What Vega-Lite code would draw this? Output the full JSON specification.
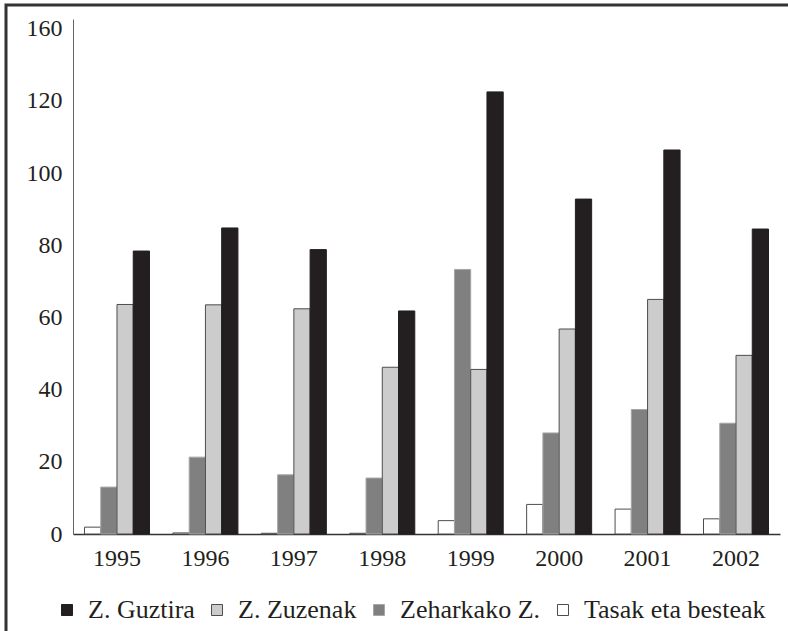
{
  "$schema": "https://vega.github.io/schema/vega-lite/v6.json",
  "width": 800,
  "height": 640,
  "autosize": {"type": "none"},
  "padding": {"left": 6, "top": 5, "right": 0, "bottom": 0},
  "background": "white",
  "config": {
    "view": {"stroke": "#333333", "strokeWidth": 3, "fill": "white"},
    "font": "Liberation Serif, Times New Roman, serif",
    "axis": {"labelFont": "Liberation Serif, Times New Roman, serif"},
    "legend": {"labelFont": "Liberation Serif, Times New Roman, serif"}
  },
  "data": {
    "values": [
      {"year": "1995", "series": "Tasak eta besteak", "value": 1.9},
      {"year": "1995", "series": "Zeharkako Z.", "value": 13.0},
      {"year": "1995", "series": "Z. Zuzenak", "value": 63.6},
      {"year": "1995", "series": "Z. Guztira", "value": 78.4},
      {"year": "1996", "series": "Tasak eta besteak", "value": 0.3},
      {"year": "1996", "series": "Zeharkako Z.", "value": 21.3},
      {"year": "1996", "series": "Z. Zuzenak", "value": 63.5},
      {"year": "1996", "series": "Z. Guztira", "value": 84.8},
      {"year": "1997", "series": "Tasak eta besteak", "value": 0.2},
      {"year": "1997", "series": "Zeharkako Z.", "value": 16.4},
      {"year": "1997", "series": "Z. Zuzenak", "value": 62.4},
      {"year": "1997", "series": "Z. Guztira", "value": 78.8},
      {"year": "1998", "series": "Tasak eta besteak", "value": 0.2},
      {"year": "1998", "series": "Zeharkako Z.", "value": 15.5},
      {"year": "1998", "series": "Z. Zuzenak", "value": 46.2},
      {"year": "1998", "series": "Z. Guztira", "value": 61.8},
      {"year": "1999", "series": "Tasak eta besteak", "value": 3.7},
      {"year": "1999", "series": "Zeharkako Z.", "value": 73.3},
      {"year": "1999", "series": "Z. Zuzenak", "value": 45.6},
      {"year": "1999", "series": "Z. Guztira", "value": 122.5},
      {"year": "2000", "series": "Tasak eta besteak", "value": 8.2},
      {"year": "2000", "series": "Zeharkako Z.", "value": 28.0},
      {"year": "2000", "series": "Z. Zuzenak", "value": 56.8},
      {"year": "2000", "series": "Z. Guztira", "value": 92.8},
      {"year": "2001", "series": "Tasak eta besteak", "value": 6.9},
      {"year": "2001", "series": "Zeharkako Z.", "value": 34.5},
      {"year": "2001", "series": "Z. Zuzenak", "value": 65.0},
      {"year": "2001", "series": "Z. Guztira", "value": 106.4},
      {"year": "2002", "series": "Tasak eta besteak", "value": 4.2},
      {"year": "2002", "series": "Zeharkako Z.", "value": 30.7},
      {"year": "2002", "series": "Z. Zuzenak", "value": 49.5},
      {"year": "2002", "series": "Z. Guztira", "value": 84.5}
    ]
  },
  "mark": {"type": "bar", "strokeWidth": 1},
  "encoding": {
    "x": {
      "field": "year",
      "type": "nominal",
      "scale": {"range": [67, 774], "paddingInner": 0.265, "paddingOuter": 0.13},
      "axis": {
        "title": null,
        "orient": "bottom",
        "offset": -111,
        "labelAngle": 0,
        "ticks": false,
        "tickSize": 0,
        "labelFontSize": 24,
        "labelColor": "#231f20",
        "labelPadding": 12,
        "domainColor": "#333333",
        "domainWidth": 1.5,
        "grid": false
      }
    },
    "xOffset": {
      "field": "series",
      "sort": ["Tasak eta besteak", "Zeharkako Z.", "Z. Zuzenak", "Z. Guztira"],
      "scale": {"paddingInner": 0, "paddingOuter": 0}
    },
    "y": {
      "field": "value",
      "type": "quantitative",
      "scale": {"domain": [0, 142.7], "range": [529, 14], "nice": false, "zero": true},
      "axis": {
        "title": null,
        "orient": "left",
        "offset": -67,
        "values": [0, 20, 40, 60, 80, 100, 120, 140],
        "labelExpr": "datum.value === 140 ? '160' : datum.label",
        "ticks": false,
        "tickSize": 0,
        "labelFontSize": 24,
        "labelColor": "#231f20",
        "labelPadding": 11,
        "domainColor": "#666666",
        "domainWidth": 1,
        "grid": false
      }
    },
    "fill": {
      "field": "series",
      "type": "nominal",
      "scale": {
        "domain": ["Z. Guztira", "Z. Zuzenak", "Zeharkako Z.", "Tasak eta besteak"],
        "range": ["#231f20", "#cccccc", "#808080", "#ffffff"]
      },
      "legend": {
        "title": null,
        "orient": "none",
        "legendX": 48,
        "legendY": 592,
        "direction": "horizontal",
        "padding": 0,
        "symbolType": "square",
        "symbolSize": 121,
        "symbolStrokeWidth": 1,
        "labelFontSize": 26,
        "labelColor": "#231f20",
        "labelOffset": 8,
        "columnPadding": 9,
        "labelLimit": 400
      }
    },
    "stroke": {
      "field": "series",
      "type": "nominal",
      "scale": {
        "domain": ["Z. Guztira", "Z. Zuzenak", "Zeharkako Z.", "Tasak eta besteak"],
        "range": ["#231f20", "#4d4d4d", "#a6a6a6", "#4d4d4d"]
      },
      "legend": {
        "title": null,
        "orient": "none",
        "legendX": 48,
        "legendY": 592,
        "direction": "horizontal",
        "padding": 0,
        "symbolType": "square",
        "symbolSize": 121,
        "symbolStrokeWidth": 1,
        "labelFontSize": 26,
        "labelColor": "#231f20",
        "labelOffset": 8,
        "columnPadding": 9,
        "labelLimit": 400
      }
    }
  }
}
